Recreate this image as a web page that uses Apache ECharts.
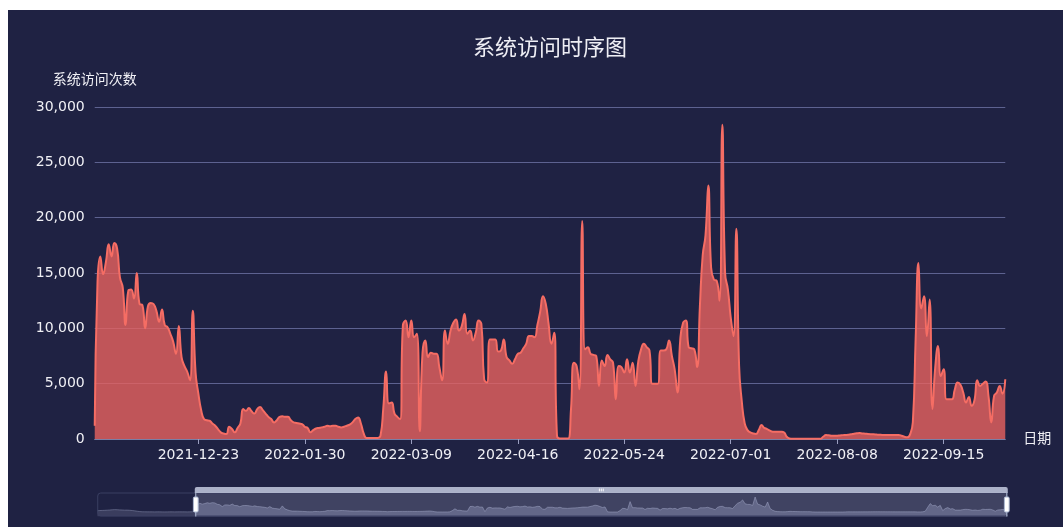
<!DOCTYPE html>
<html>
<head>
<meta charset="utf-8">
<script src="https://cdn.jsdelivr.net/npm/echarts@6/dist/echarts.min.js"></script>
<style>
html,body{margin:0;padding:0;background:#ffffff;overflow:hidden;width:1063px;height:527px;}
#chart{position:absolute;left:8px;top:10px;width:1084px;height:517px;background:#1f2243;}
</style>
</head>
<body>
<div id="chart"></div>
<script>
// ---- data ----
const startDate = '2021-10-08';
const dayCount = 365;
const windowStart = '2021-11-16';
const titleText = '系统访问时序图';
const yName = '系统访问次数';
const xName = '日期';
const yTicks = [0, 5000, 10000, 15000, 20000, 25000, 30000];

// daily visits 2021-10-08 .. 2021-11-15 (only visible in the zoom slider)
const visitsEarly = [2500, 2800, 3000, 3200, 3500, 3800, 4200, 4500, 4300, 4000,
  3800, 3500, 3600, 3300, 2800, 2200, 1500, 800, 500, 400,
  350, 300, 300, 250, 300, 300, 250, 200, 250, 300,
  300, 250, 300, 350, 300, 300, 250, 300, 400];
// daily visits 2021-11-16 .. 2022-10-07
const visitsMain = [
  1200, 14200, 16500, 14900, 16000, 17600, 16500, 17700, 17200, 14600,
  13700, 10300, 13400, 13500, 12700, 15000, 12200, 12100, 10000, 12000,
  12300, 12200, 11600, 10600, 11700, 10300, 10100, 9500, 8800, 7700,
  10200, 7400, 6600, 6100, 5300, 11600, 6000, 4100, 2600, 1800,
  1700, 1650, 1400, 1200, 900, 600, 500, 450, 1100, 900,
  600, 1000, 1400, 2700, 2550, 2800, 2500, 2300, 2700, 2900,
  2600, 2300, 2000, 1800, 1500, 1700, 2000, 2050, 2000, 2000,
  1700, 1500, 1450, 1400, 1350, 1100, 1000, 600, 800, 950,
  1000, 1050, 1100, 1200, 1150, 1200, 1200, 1100, 1050, 1100,
  1200, 1300, 1500, 1800, 1950, 1400, 500, 100, 100, 100,
  100, 100, 300, 2800, 6100, 3200, 3300, 2300, 2000, 1800,
  10300, 10700, 9200, 10700, 9200, 9500, 700, 7800, 8900, 7400,
  7800, 7700, 7700, 6500, 5300, 9800, 8600, 9800, 10500, 10800,
  9800, 10200, 11300, 9500, 9800, 8900, 9600, 10700, 10400, 5400,
  5100, 9000, 9000, 9000, 7900, 8000, 9000, 7400, 7100, 6800,
  7200, 7700, 7800, 8200, 8600, 9300, 9300, 9200, 10300, 11500,
  12900, 12200, 10400, 8600, 9600, 300, 50, 50, 50, 50,
  2700, 6900, 6600, 4500, 19700, 8100, 8300, 7700, 7600, 7500,
  4800, 7100, 6600, 7600, 7200, 6900, 3600, 6600, 6500, 6000,
  7200, 6000, 6900, 4800, 7000, 8100, 8600, 8300, 8000, 5000,
  5000, 5000, 8000, 8000, 8100, 8900, 7500, 6300, 4200, 9000,
  10500, 10700, 8300, 8200, 8100, 6500, 12000, 16600, 18400, 22900,
  15500, 14400, 14300, 12500, 28400, 15000, 13500, 11000, 9300, 19000,
  6600, 3300, 1400, 800, 600, 500, 450, 800, 1260, 1000,
  900, 750, 660, 660, 660, 650, 600, 200, 50, 30,
  30, 30, 30, 30, 30, 30, 30, 30, 30, 30,
  200, 360, 330, 300, 300, 300, 320, 350, 360, 380,
  420, 480, 520, 540, 500, 480, 450, 430, 420, 400,
  380, 370, 360, 360, 360, 360, 360, 360, 300, 200,
  150, 400, 1500, 9000, 15900, 11800, 12900, 9300, 12600, 2700,
  6500, 8400, 5700, 6300, 3600, 3600, 3600, 4500, 5100, 4900,
  4200, 3300, 3800, 3000, 3500, 5300, 4800, 5000, 5200, 3900,
  1500, 3900, 4200, 4800, 4100, 5400
];

// ---- build ----
const dates = [];
const t0 = Date.parse(startDate + 'T00:00:00Z');
for (let i = 0; i < dayCount; i++) {
  dates.push(new Date(t0 + i * 86400000).toISOString().slice(0, 10));
}
const visits = visitsEarly.concat(visitsMain);

const font = '"DejaVu Sans", "Noto Sans CJK SC", sans-serif';
const chart = echarts.init(document.getElementById('chart'));
chart.setOption({
  backgroundColor: '#1f2243',
  animation: false,
  title: {
    text: titleText,
    left: 'center',
    top: 21,
    textStyle: { color: '#eeeef4', fontSize: 22, fontWeight: 'normal', fontFamily: '"Noto Sans CJK SC", sans-serif' }
  },
  grid: { left: '8%', right: '8%', top: 97, bottom: 88 },
  xAxis: {
    type: 'category',
    boundaryGap: false,
    data: dates,
    name: xName,
    nameGap: 18,
    nameTextStyle: { color: '#f0f0f5', fontSize: 14, fontFamily: font },
    axisLine: { lineStyle: { color: '#7a7fa6' } },
    axisTick: { interval: 37, lineStyle: { color: '#9a9ec0' } },
    axisLabel: { interval: 37, color: '#f0f0f5', fontSize: 14, fontFamily: font, margin: 9 }
  },
  yAxis: {
    type: 'value',
    min: yTicks[0],
    max: yTicks[yTicks.length - 1],
    interval: yTicks[1] - yTicks[0],
    name: yName,
    nameGap: 20,
    nameTextStyle: { color: '#f0f0f5', fontSize: 14, fontFamily: font },
    axisLabel: { color: '#f0f0f5', fontSize: 14, fontFamily: font, margin: 10 },
    splitLine: { lineStyle: { color: '#5d6290', width: 1 } }
  },
  dataZoom: [{
    type: 'slider',
    startValue: dates.indexOf(windowStart),
    endValue: dates.length - 1,
    top: 477,
    height: 24,
    backgroundColor: 'rgba(47,69,84,0)',
    borderColor: '#3a3f62',
    borderRadius: 3,
    dataBackground: { lineStyle: { color: '#8a90b0', width: 0.5 }, areaStyle: { color: '#8a90b0', opacity: 0.25 } },
    selectedDataBackground: { lineStyle: { color: '#a8aed0', width: 0.5 }, areaStyle: { color: '#8c93bb', opacity: 0.45 } },
    fillerColor: 'rgba(150,155,180,0.28)',
    handleIcon: 'path://M-9.35,34.56V42m0-40V9.5m-2,0h4a2,2,0,0,1,2,2v21a2,2,0,0,1-2,2h-4a2,2,0,0,1-2-2v-21A2,2,0,0,1-11.35,9.5Z',
    handleSize: '100%',
    handleStyle: { color: '#fff', borderColor: '#ACB8D1' },
    moveHandleSize: 6,
    moveHandleStyle: { color: '#C5CBE0', opacity: 0.85 },
    showDetail: false,
    textStyle: { color: '#6E7079' }
  }],
  series: [{
    type: 'line',
    data: visits,
    smooth: true,
    showSymbol: false,
    lineStyle: { color: '#f56d64', width: 2 },
    itemStyle: { color: '#f56d64' },
    areaStyle: { color: '#e9635f', opacity: 0.8 }
  }]
});
</script>
</body>
</html>
